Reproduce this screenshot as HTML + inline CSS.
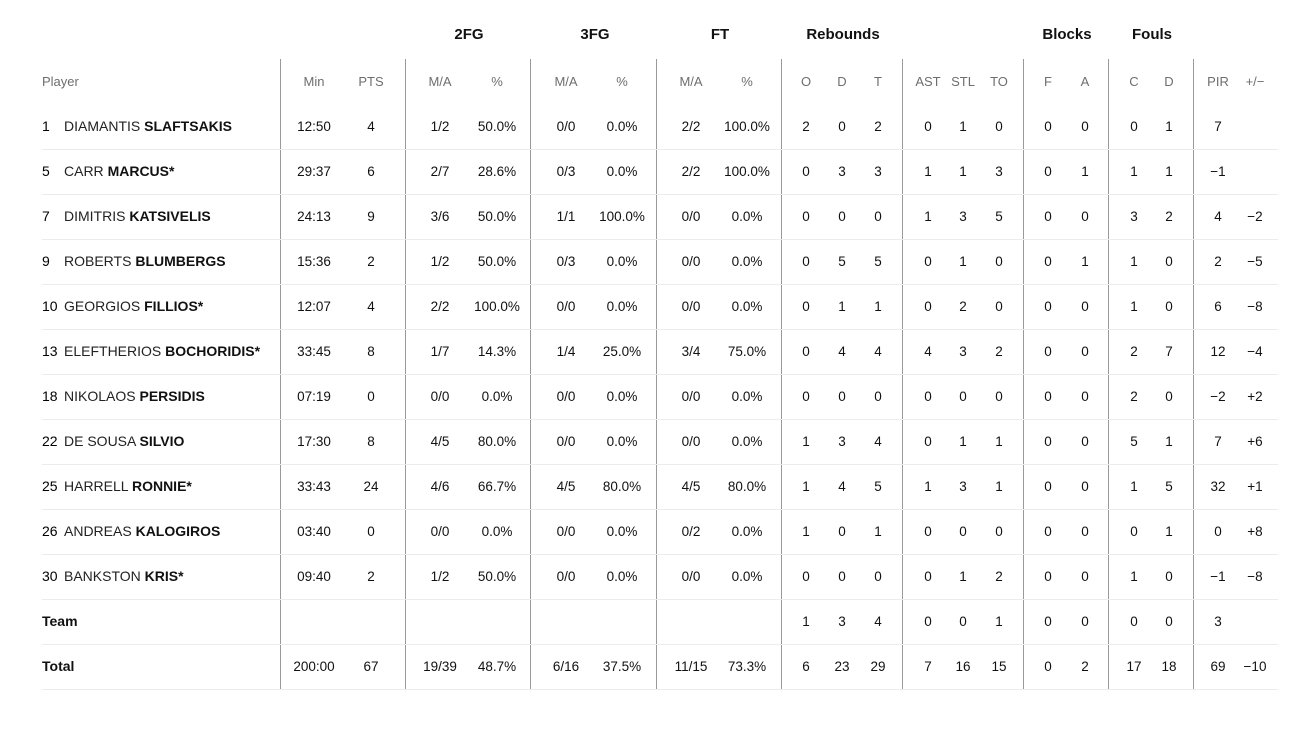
<!DOCTYPE html>
<html><head><meta charset="utf-8"><style>
html,body{margin:0;padding:0;background:#fff;}
body{width:1315px;height:730px;position:relative;overflow:hidden;font-family:"Liberation Sans",sans-serif;color:#111;}
.vl{position:absolute;top:59px;height:630px;width:1px;background:#9a9a9a;}
.hl{position:absolute;left:42px;width:1236px;height:1px;background:#ececec;}
.row{position:absolute;left:0;width:1315px;height:45px;line-height:45px;font-size:13.5px;}
.row > span{position:absolute;top:0;width:70px;text-align:center;white-space:nowrap;}
.gh{position:absolute;top:12px;height:45px;line-height:45px;font-size:15px;font-weight:bold;width:120px;text-align:center;}
.hdr{color:#6e6e6e;font-size:13px;}
.row > span.nm{left:42px;width:auto;text-align:left;font-size:14px;}
.nm b{font-weight:bold;}
.nm i{font-style:normal;display:inline-block;width:22px;color:#000;}
.nm .fn{color:#222;}
.c1{left:279px}.c2{left:336px}.c3{left:405px}.c4{left:462px}.c5{left:531px}.c6{left:587px}
.c7{left:656px}.c8{left:712px}.c9{left:771px}.c10{left:807px}.c11{left:843px}.c12{left:893px}
.c13{left:928px}.c14{left:964px}.c15{left:1013px}.c16{left:1050px}.c17{left:1099px}.c18{left:1134px}
.c19{left:1183px}.c20{left:1220px}
</style></head><body>
<div class="gh" style="left:409px">2FG</div>
<div class="gh" style="left:535px">3FG</div>
<div class="gh" style="left:660px">FT</div>
<div class="gh" style="left:783px">Rebounds</div>
<div class="gh" style="left:1007px">Blocks</div>
<div class="gh" style="left:1092px">Fouls</div>

<div class="vl" style="left:280px"></div>
<div class="vl" style="left:405px"></div>
<div class="vl" style="left:530px"></div>
<div class="vl" style="left:656px"></div>
<div class="vl" style="left:781px"></div>
<div class="vl" style="left:902px"></div>
<div class="vl" style="left:1023px"></div>
<div class="vl" style="left:1108px"></div>
<div class="vl" style="left:1193px"></div>

<div class="hl" style="top:149px"></div>
<div class="hl" style="top:194px"></div>
<div class="hl" style="top:239px"></div>
<div class="hl" style="top:284px"></div>
<div class="hl" style="top:329px"></div>
<div class="hl" style="top:374px"></div>
<div class="hl" style="top:419px"></div>
<div class="hl" style="top:464px"></div>
<div class="hl" style="top:509px"></div>
<div class="hl" style="top:554px"></div>
<div class="hl" style="top:599px"></div>
<div class="hl" style="top:644px"></div>
<div class="hl" style="top:689px"></div>

<div class="row hdr" style="top:59px">
<span class="nm" style="font-size:13px;color:#6e6e6e">Player</span>
<span class="c1">Min</span><span class="c2">PTS</span>
<span class="c3">M/A</span><span class="c4">%</span>
<span class="c5">M/A</span><span class="c6">%</span>
<span class="c7">M/A</span><span class="c8">%</span>
<span class="c9">O</span><span class="c10">D</span><span class="c11">T</span>
<span class="c12">AST</span><span class="c13">STL</span><span class="c14">TO</span>
<span class="c15">F</span><span class="c16">A</span>
<span class="c17">C</span><span class="c18">D</span>
<span class="c19">PIR</span><span class="c20">+/−</span>
</div>

<div class="row" style="top:104px">
<span class="nm"><i>1</i><span class="fn">DIAMANTIS</span> <b>SLAFTSAKIS</b></span>
<span class="c1">12:50</span><span class="c2">4</span>
<span class="c3">1/2</span><span class="c4">50.0%</span>
<span class="c5">0/0</span><span class="c6">0.0%</span>
<span class="c7">2/2</span><span class="c8">100.0%</span>
<span class="c9">2</span><span class="c10">0</span><span class="c11">2</span>
<span class="c12">0</span><span class="c13">1</span><span class="c14">0</span>
<span class="c15">0</span><span class="c16">0</span>
<span class="c17">0</span><span class="c18">1</span>
<span class="c19">7</span><span class="c20"></span>
</div>

<div class="row" style="top:149px">
<span class="nm"><i>5</i><span class="fn">CARR</span> <b>MARCUS*</b></span>
<span class="c1">29:37</span><span class="c2">6</span>
<span class="c3">2/7</span><span class="c4">28.6%</span>
<span class="c5">0/3</span><span class="c6">0.0%</span>
<span class="c7">2/2</span><span class="c8">100.0%</span>
<span class="c9">0</span><span class="c10">3</span><span class="c11">3</span>
<span class="c12">1</span><span class="c13">1</span><span class="c14">3</span>
<span class="c15">0</span><span class="c16">1</span>
<span class="c17">1</span><span class="c18">1</span>
<span class="c19">−1</span><span class="c20"></span>
</div>

<div class="row" style="top:194px">
<span class="nm"><i>7</i><span class="fn">DIMITRIS</span> <b>KATSIVELIS</b></span>
<span class="c1">24:13</span><span class="c2">9</span>
<span class="c3">3/6</span><span class="c4">50.0%</span>
<span class="c5">1/1</span><span class="c6">100.0%</span>
<span class="c7">0/0</span><span class="c8">0.0%</span>
<span class="c9">0</span><span class="c10">0</span><span class="c11">0</span>
<span class="c12">1</span><span class="c13">3</span><span class="c14">5</span>
<span class="c15">0</span><span class="c16">0</span>
<span class="c17">3</span><span class="c18">2</span>
<span class="c19">4</span><span class="c20">−2</span>
</div>

<div class="row" style="top:239px">
<span class="nm"><i>9</i><span class="fn">ROBERTS</span> <b>BLUMBERGS</b></span>
<span class="c1">15:36</span><span class="c2">2</span>
<span class="c3">1/2</span><span class="c4">50.0%</span>
<span class="c5">0/3</span><span class="c6">0.0%</span>
<span class="c7">0/0</span><span class="c8">0.0%</span>
<span class="c9">0</span><span class="c10">5</span><span class="c11">5</span>
<span class="c12">0</span><span class="c13">1</span><span class="c14">0</span>
<span class="c15">0</span><span class="c16">1</span>
<span class="c17">1</span><span class="c18">0</span>
<span class="c19">2</span><span class="c20">−5</span>
</div>

<div class="row" style="top:284px">
<span class="nm"><i>10</i><span class="fn">GEORGIOS</span> <b>FILLIOS*</b></span>
<span class="c1">12:07</span><span class="c2">4</span>
<span class="c3">2/2</span><span class="c4">100.0%</span>
<span class="c5">0/0</span><span class="c6">0.0%</span>
<span class="c7">0/0</span><span class="c8">0.0%</span>
<span class="c9">0</span><span class="c10">1</span><span class="c11">1</span>
<span class="c12">0</span><span class="c13">2</span><span class="c14">0</span>
<span class="c15">0</span><span class="c16">0</span>
<span class="c17">1</span><span class="c18">0</span>
<span class="c19">6</span><span class="c20">−8</span>
</div>

<div class="row" style="top:329px">
<span class="nm"><i>13</i><span class="fn">ELEFTHERIOS</span> <b>BOCHORIDIS*</b></span>
<span class="c1">33:45</span><span class="c2">8</span>
<span class="c3">1/7</span><span class="c4">14.3%</span>
<span class="c5">1/4</span><span class="c6">25.0%</span>
<span class="c7">3/4</span><span class="c8">75.0%</span>
<span class="c9">0</span><span class="c10">4</span><span class="c11">4</span>
<span class="c12">4</span><span class="c13">3</span><span class="c14">2</span>
<span class="c15">0</span><span class="c16">0</span>
<span class="c17">2</span><span class="c18">7</span>
<span class="c19">12</span><span class="c20">−4</span>
</div>

<div class="row" style="top:374px">
<span class="nm"><i>18</i><span class="fn">NIKOLAOS</span> <b>PERSIDIS</b></span>
<span class="c1">07:19</span><span class="c2">0</span>
<span class="c3">0/0</span><span class="c4">0.0%</span>
<span class="c5">0/0</span><span class="c6">0.0%</span>
<span class="c7">0/0</span><span class="c8">0.0%</span>
<span class="c9">0</span><span class="c10">0</span><span class="c11">0</span>
<span class="c12">0</span><span class="c13">0</span><span class="c14">0</span>
<span class="c15">0</span><span class="c16">0</span>
<span class="c17">2</span><span class="c18">0</span>
<span class="c19">−2</span><span class="c20">+2</span>
</div>

<div class="row" style="top:419px">
<span class="nm"><i>22</i><span class="fn">DE SOUSA</span> <b>SILVIO</b></span>
<span class="c1">17:30</span><span class="c2">8</span>
<span class="c3">4/5</span><span class="c4">80.0%</span>
<span class="c5">0/0</span><span class="c6">0.0%</span>
<span class="c7">0/0</span><span class="c8">0.0%</span>
<span class="c9">1</span><span class="c10">3</span><span class="c11">4</span>
<span class="c12">0</span><span class="c13">1</span><span class="c14">1</span>
<span class="c15">0</span><span class="c16">0</span>
<span class="c17">5</span><span class="c18">1</span>
<span class="c19">7</span><span class="c20">+6</span>
</div>

<div class="row" style="top:464px">
<span class="nm"><i>25</i><span class="fn">HARRELL</span> <b>RONNIE*</b></span>
<span class="c1">33:43</span><span class="c2">24</span>
<span class="c3">4/6</span><span class="c4">66.7%</span>
<span class="c5">4/5</span><span class="c6">80.0%</span>
<span class="c7">4/5</span><span class="c8">80.0%</span>
<span class="c9">1</span><span class="c10">4</span><span class="c11">5</span>
<span class="c12">1</span><span class="c13">3</span><span class="c14">1</span>
<span class="c15">0</span><span class="c16">0</span>
<span class="c17">1</span><span class="c18">5</span>
<span class="c19">32</span><span class="c20">+1</span>
</div>

<div class="row" style="top:509px">
<span class="nm"><i>26</i><span class="fn">ANDREAS</span> <b>KALOGIROS</b></span>
<span class="c1">03:40</span><span class="c2">0</span>
<span class="c3">0/0</span><span class="c4">0.0%</span>
<span class="c5">0/0</span><span class="c6">0.0%</span>
<span class="c7">0/2</span><span class="c8">0.0%</span>
<span class="c9">1</span><span class="c10">0</span><span class="c11">1</span>
<span class="c12">0</span><span class="c13">0</span><span class="c14">0</span>
<span class="c15">0</span><span class="c16">0</span>
<span class="c17">0</span><span class="c18">1</span>
<span class="c19">0</span><span class="c20">+8</span>
</div>

<div class="row" style="top:554px">
<span class="nm"><i>30</i><span class="fn">BANKSTON</span> <b>KRIS*</b></span>
<span class="c1">09:40</span><span class="c2">2</span>
<span class="c3">1/2</span><span class="c4">50.0%</span>
<span class="c5">0/0</span><span class="c6">0.0%</span>
<span class="c7">0/0</span><span class="c8">0.0%</span>
<span class="c9">0</span><span class="c10">0</span><span class="c11">0</span>
<span class="c12">0</span><span class="c13">1</span><span class="c14">2</span>
<span class="c15">0</span><span class="c16">0</span>
<span class="c17">1</span><span class="c18">0</span>
<span class="c19">−1</span><span class="c20">−8</span>
</div>

<div class="row" style="top:599px">
<span class="nm"><b>Team</b></span>
<span class="c9">1</span><span class="c10">3</span><span class="c11">4</span>
<span class="c12">0</span><span class="c13">0</span><span class="c14">1</span>
<span class="c15">0</span><span class="c16">0</span>
<span class="c17">0</span><span class="c18">0</span>
<span class="c19">3</span>
</div>

<div class="row" style="top:644px">
<span class="nm"><b>Total</b></span>
<span class="c1">200:00</span><span class="c2">67</span>
<span class="c3">19/39</span><span class="c4">48.7%</span>
<span class="c5">6/16</span><span class="c6">37.5%</span>
<span class="c7">11/15</span><span class="c8">73.3%</span>
<span class="c9">6</span><span class="c10">23</span><span class="c11">29</span>
<span class="c12">7</span><span class="c13">16</span><span class="c14">15</span>
<span class="c15">0</span><span class="c16">2</span>
<span class="c17">17</span><span class="c18">18</span>
<span class="c19">69</span><span class="c20">−10</span>
</div>
</body></html>
